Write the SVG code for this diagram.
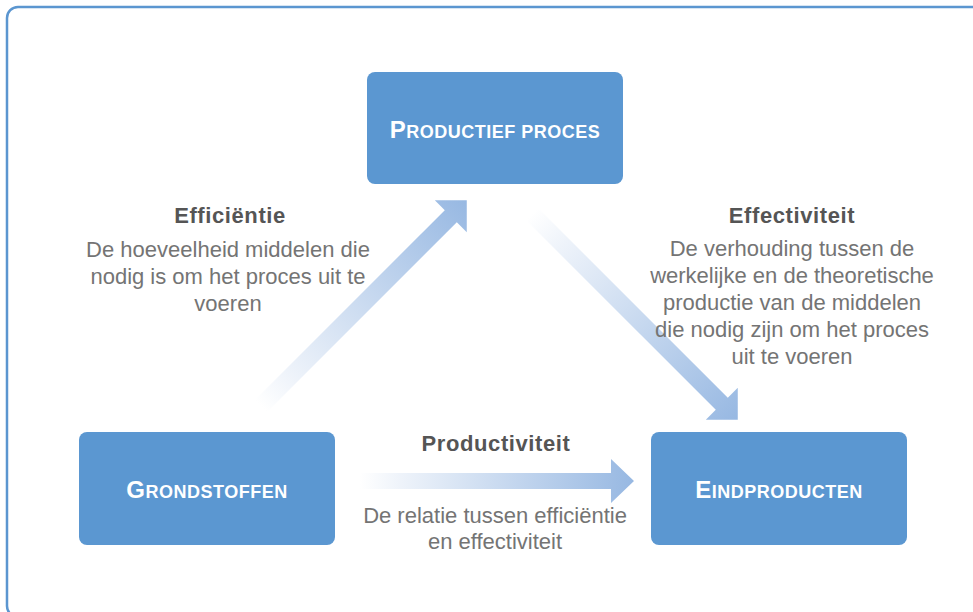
<svg xmlns="http://www.w3.org/2000/svg" width="973" height="612" viewBox="0 0 973 612">
  <defs>
    <linearGradient id="flow" x1="0" y1="0" x2="1" y2="0">
      <stop offset="0" stop-color="#ffffff"/>
      <stop offset="0.15" stop-color="#eef3fa"/>
      <stop offset="1" stop-color="#97b8e2"/>
    </linearGradient>
    <style>
      .frame { fill: none; stroke: #5b96d0; stroke-width: 2.5; }
      .box { fill: #5b97d1; }
      .cap { font-family: "Liberation Sans", Arial, sans-serif; font-weight: bold; fill: #ffffff; letter-spacing: 0.5px; }
      .cap .big { font-size: 24px; }
      .cap .small { font-size: 18px; }
      .head { font-family: "Liberation Sans", Arial, sans-serif; font-weight: bold; font-size: 22px; fill: #555555; letter-spacing: 0.6px; text-anchor: middle; }
      .body { font-family: "Liberation Sans", Arial, sans-serif; font-size: 22px; fill: #747474; text-anchor: middle; }
      .arrow { fill: url(#flow); }
    </style>
  </defs>

  <rect class="frame" x="7" y="7" width="985" height="610" rx="11"/>

  <!-- connectors -->
  <g id="connectors">
    <!-- grondstoffen to productief proces -->
    <path class="arrow" transform="translate(261,406) rotate(-45)" d="M0,-8.5 H268.4 V-22.6 L291,0 L268.4,22.6 V8.5 H0 Z"/>
    <!-- productief proces to eindproducten -->
    <path class="arrow" transform="translate(532,214) rotate(45)" d="M0,-8.5 H268.4 V-22.6 L291,0 L268.4,22.6 V8.5 H0 Z"/>
    <!-- grondstoffen to eindproducten -->
    <path class="arrow" d="M360,473 H611 V459 L634,481 L611,503 V489 H360 Z"/>
  </g>

  <g id="node-productief-proces">
    <rect class="box" x="367" y="72" width="256" height="112" rx="8"/>
    <text class="cap" x="495" y="138" text-anchor="middle"><tspan class="big">P</tspan><tspan class="small">RODUCTIEF PROCES</tspan></text>
  </g>

  <g id="node-grondstoffen">
    <rect class="box" x="79" y="432" width="256" height="113" rx="8"/>
    <text class="cap" x="207" y="498" text-anchor="middle"><tspan class="big">G</tspan><tspan class="small">RONDSTOFFEN</tspan></text>
  </g>

  <g id="node-eindproducten">
    <rect class="box" x="651" y="432" width="256" height="113" rx="8"/>
    <text class="cap" x="779" y="498" text-anchor="middle"><tspan class="big">E</tspan><tspan class="small">INDPRODUCTEN</tspan></text>
  </g>

  <g id="label-efficientie">
    <text class="head" x="230" y="223">Efficiëntie</text>
    <text class="body" x="228" y="257">De hoeveelheid middelen die</text>
    <text class="body" x="228" y="284">nodig is om het proces uit te</text>
    <text class="body" x="228" y="311">voeren</text>
  </g>

  <g id="label-effectiviteit">
    <text class="head" x="792" y="223">Effectiviteit</text>
    <text class="body" x="792" y="256">De verhouding tussen de</text>
    <text class="body" x="792" y="283">werkelijke en de theoretische</text>
    <text class="body" x="792" y="310">productie van de middelen</text>
    <text class="body" x="792" y="337">die nodig zijn om het proces</text>
    <text class="body" x="792" y="364">uit te voeren</text>
  </g>

  <g id="label-productiviteit">
    <text class="head" x="496" y="451">Productiviteit</text>
    <text class="body" x="495" y="523">De relatie tussen efficiëntie</text>
    <text class="body" x="495" y="549">en effectiviteit</text>
  </g>
</svg>
